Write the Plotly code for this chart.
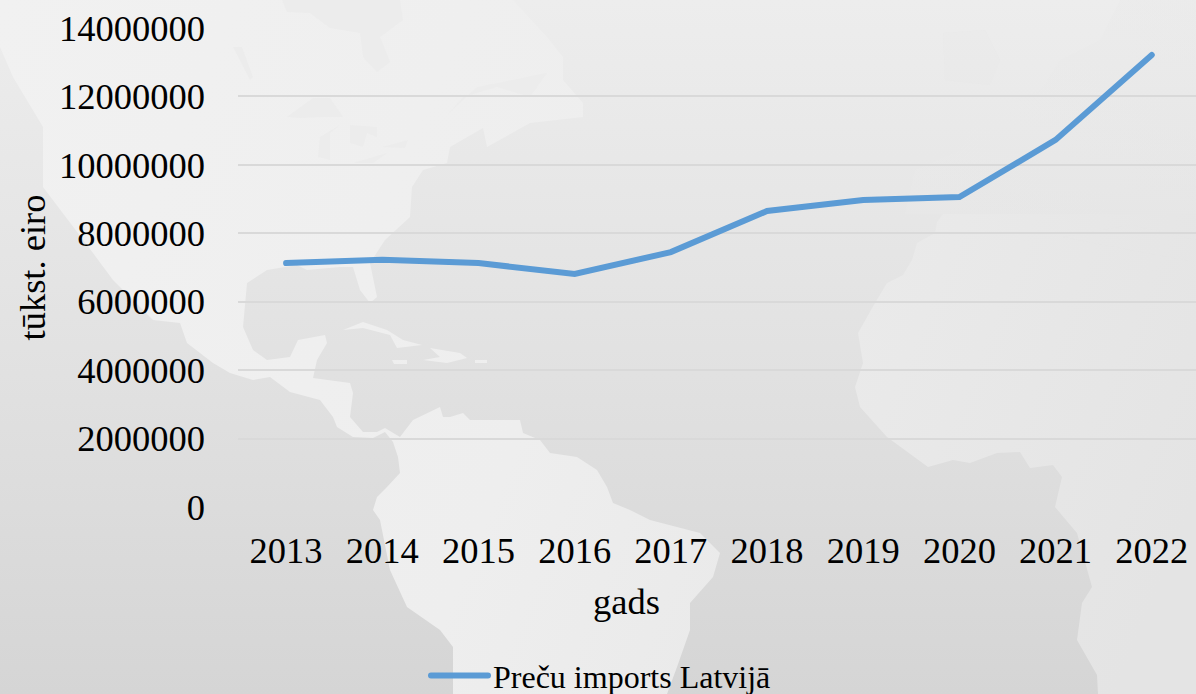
import base64
import plotly.graph_objects as go

# ---- chart data ----
years = ["2013", "2014", "2015", "2016", "2017", "2018", "2019", "2020", "2021", "2022"]
imports_latvia = [7130000, 7230000, 7130000, 6810000, 7450000, 8650000, 8970000, 9060000, 10730000, 13210000]
series_name = "Preču imports Latvijā"
x_title = "gads"
y_title = "tūkst. eiro"

# ---- decorative backdrop: a faint map of the Atlantic (canvas pixels) ----
W, H = 1196, 694
americas = [(0,0),(0,47),(13,77),(43,127),(43,187),(93,253),(113,280),(153,320),(180,323),(187,343),(213,363),
 (230,373),(253,380),(270,377),(290,392),(320,400),(333,417),(337,427),(353,437),(373,438),(385,432),(393,442),
 (398,457),(400,473),(387,487),(377,497),(373,510),(380,520),(390,570),(407,607),(440,630),(453,647),(453,694),
 (667,694),(677,667),(690,630),(690,603),(713,577),(720,553),(700,533),(650,520),(630,510),(613,503),(607,487),
 (597,470),(577,457),(550,453),(540,440),(523,433),(520,420),(497,420),(470,420),(463,413),(450,417),(443,417),
 (440,407),(413,420),(400,437),(385,428),(377,432),(363,432),(350,417),(353,393),(350,383),(313,378),(317,360),
 (327,343),(325,335),(298,340),(290,357),(267,360),(253,350),(243,327),(247,283),(267,270),(297,265),(307,270),
 (340,267),(353,267),(360,290),(370,303),(377,297),(370,263),(385,240),(410,217),(412,187),(423,170),(447,163),
 (450,147),(483,128),(487,147),(530,123),(583,117),(583,103),(563,80),(563,57),(547,37),(513,0)]
cuba = [(343,330),(363,322),(387,330),(403,340),(422,345),(397,348),(390,335),(363,328)]
hispaniola = [(430,348),(460,353),(467,358),(447,363),(423,360),(440,357)]
jamaica = [(392,360),(407,360),(407,364),(394,364)]
puerto_rico = [(475,360),(487,360),(487,363),(475,363)]
africa = [(943,214),(937,222),(935,233),(917,243),(912,260),(903,275),(887,283),(875,303),(858,333),(863,363),(855,387),
 (860,407),(887,437),(928,467),(953,460),(970,463),(997,453),(1020,452),(1030,468),(1053,465),(1062,477),
 (1055,507),(1077,533),(1092,587),(1082,603),(1077,640),(1097,675),(1098,694),(1196,694),(1196,214)]
europe = [(905,214),(915,170),(960,150),(980,110),(1040,90),(1060,60),(1100,40),(1120,0),(1196,0),(1196,214)]
water = [
 [(282,0),(287,12),(310,13),(330,28),(360,33),(363,57),(377,72),(390,62),(380,37),(403,20),(400,0)],
 [(287,117),(313,98),(330,98),(343,117),(323,117),(300,118)],
 [(318,157),(320,137),(340,125),(330,133),(330,160)],
 [(350,125),(377,127),(377,137),(367,133),(363,147),(350,143)],
 [(353,163),(387,153),(373,163)],
 [(382,147),(408,140),(405,148)],
 [(233,47),(242,47),(253,77),(250,80)],
 [(447,115),(477,87),(547,73),(530,97),(497,87),(463,97)],
]
inland_dark = [
 [(1063,237),(1130,250),(1196,262),(1196,240),(1130,225)],
 [(943,33),(985,30),(1000,60),(990,85),(945,80)],
]

def poly(points, fill, extra=""):
    p = " ".join(f"{x},{y}" for x, y in points)
    return f'<polygon points="{p}" fill="{fill}" {extra}/>'

svg = (f'<svg xmlns="http://www.w3.org/2000/svg" width="{W}" height="{H}" viewBox="0 0 {W} {H}">'
       '<defs>'
       '<linearGradient id="o" x1="0" y1="0" x2="0" y2="1">'
       '<stop offset="0" stop-color="#ededed"/><stop offset="0.5" stop-color="#e2e2e2"/>'
       '<stop offset="1" stop-color="#d5d5d5"/></linearGradient>'
       '<linearGradient id="l" gradientUnits="userSpaceOnUse" x1="0" y1="0" x2="1196" y2="500">'
       '<stop offset="0" stop-color="#f1f1f1"/><stop offset="0.5" stop-color="#eeeeee"/>'
       '<stop offset="1" stop-color="#e4e4e4"/></linearGradient>'
       '</defs>'
       f'<rect width="{W}" height="{H}" fill="url(#o)"/>')
for shape in [americas, cuba, hispaniola, jamaica, puerto_rico, africa]:
    svg += poly(shape, "url(#l)")
svg += poly(europe, "url(#l)", 'fill-opacity="0.3"')
for shape in water:
    svg += poly(shape, "#ececec")
for shape in inland_dark:
    svg += poly(shape, "#e6e6e6", 'fill-opacity="0.25"')
svg += '</svg>'
backdrop = "data:image/svg+xml;base64," + base64.b64encode(svg.encode()).decode()

# ---- layout constants ----
LEFT, RIGHT, TOP, BOTTOM = 238, 1196, 28, 507
pw, ph = RIGHT - LEFT, BOTTOM - TOP
FONT = "Liberation Serif"
FS = 36.5

fig = go.Figure()
fig.add_trace(go.Scatter(x=years, y=imports_latvia, mode="lines", name=series_name,
                         line=dict(color="#5B9BD5", width=6), showlegend=True, hoverinfo="skip"))

fig.update_layout(
    width=W, height=H,
    margin=dict(l=LEFT, r=W - RIGHT, t=TOP, b=H - BOTTOM, pad=0, autoexpand=False),
    paper_bgcolor="#e6e6e6", plot_bgcolor="rgba(0,0,0,0)",
    font=dict(family=FONT, size=FS, color="#000000"),
    images=[dict(source=backdrop, xref="paper", yref="paper", x=-LEFT / pw, y=1 + TOP / ph,
                 sizex=W / pw, sizey=H / ph, xanchor="left", yanchor="top",
                 sizing="stretch", layer="below")],
    xaxis=dict(type="category", range=[-0.5, 9.46], showgrid=False, zeroline=False, showline=False,
               ticks="", ticklabelstandoff=18, automargin=False, tickangle=0),
    yaxis=dict(range=[0, 14000000], dtick=2000000, tickformat="d", showgrid=True, gridcolor="#d9d9d9",
               gridwidth=2, zeroline=False, showline=False, ticks="", ticklabelstandoff=32, automargin=False,
               title=dict(text=y_title, standoff=2, font=dict(size=FS))),
    legend=dict(orientation="h", x=(601 - LEFT) / pw, xanchor="center", y=-0.295, yanchor="top",
                itemwidth=57, font=dict(size=32), bgcolor="rgba(0,0,0,0)"),
    showlegend=True,
    annotations=[dict(text=x_title, xref="paper", yref="paper", x=(626 - LEFT) / pw, y=(BOTTOM - 601) / ph,
                      xanchor="center", yanchor="middle", showarrow=False, font=dict(size=FS))],
)

post = """
var s=document.createElement('style');
s.textContent='html,body{margin:0;padding:0;overflow:hidden;} .js-line{stroke-linecap:round !important;} .legendlines path{stroke-width:6px !important;}';
document.head.appendChild(s);
"""
fig.write_html("out.html", post_script=post, config={"displayModeBar": False})
